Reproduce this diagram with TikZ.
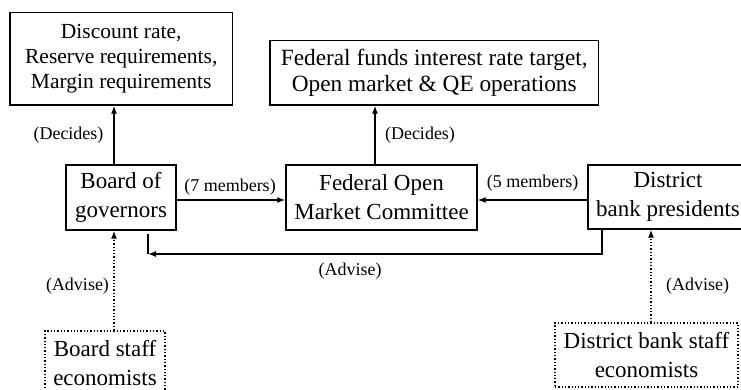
\documentclass[tikz,border=0pt]{standalone}
\usepackage{fontspec}
\setmainfont{Liberation Serif}
\usetikzlibrary{arrows.meta}
\tikzset{
  box/.style={draw, line width=1.4pt, inner sep=0pt, align=center},
  topbox/.style={box, font=\fontsize{21.5}{25}\selectfont},
  midbox/.style={box, font=\fontsize{23}{29}\selectfont},
  staffbox/.style={draw, dotted, line width=1.3pt, inner sep=0pt, align=center, font=\fontsize{23}{29}\selectfont},
  arr/.style={line width=1.3pt, -{Latex[length=8pt,width=6pt]}},
  darr/.style={line width=1.3pt, dotted, -{Latex[length=8pt,width=6pt]}},
  lbl/.style={font=\fontsize{18}{20}\selectfont, inner sep=0pt}
}
\begin{document}
\begin{tikzpicture}[x=1pt,y=-1pt]
\useasboundingbox (0,0) rectangle (741,390);
\clip (0,0) rectangle (741,390);
\fill[white] (0,0) rectangle (741,390);
% boxes
\node[topbox, minimum width=222.5pt, minimum height=92.5pt] (A) at (121.25,58.75)
  {Discount rate,\\Reserve requirements,\\Margin requirements};
\node[topbox, font=\fontsize{23.3}{26}\selectfont, minimum width=328.5pt, minimum height=64.5pt] (B) at (434.25,72.75)
  {Federal funds interest rate target,\\Open market \& QE operations};
\node[midbox, minimum width=110pt, minimum height=65pt] (C) at (121,197.5)
  {Board of\\governors};
\node[midbox, minimum width=191pt, minimum height=65pt] (D) at (381.5,197.5)
  {Federal Open\\Market Committee};
\node[midbox, minimum width=160pt, minimum height=64pt] (E) at (668,197)
  {District\\bank presidents};
\node[staffbox, minimum width=120pt, minimum height=64pt] (F) at (105,363)
  {Board staff\\economists};
\node[staffbox, minimum width=183pt, minimum height=64pt] (G) at (646.5,355)
  {District bank staff\\economists};
% helper coordinates
\coordinate (xa) at (114,0);
\coordinate (xb) at (375,0);
\coordinate (ye) at (0,200);
\coordinate (xe) at (602,0);
\coordinate (xg) at (651,0);
\coordinate (turn) at (602,254);
\coordinate (stubtop) at (148,234);
\coordinate (stubbot) at (148,254);
% connectors
\draw[arr] (C.north -| xa) -- (A.south -| xa);
\draw[arr] (D.north -| xb) -- (B.south -| xb);
\draw[arr] (C.east |- ye) -- (D.west |- ye);
\draw[arr] (E.west |- ye) -- (D.east |- ye);
\draw[arr] (E.south -| xe) -- (turn) -- (stubbot);
\draw[line width=1.3pt] (stubtop) -- (stubbot);
\draw[darr] (F.north -| xa) -- (C.south -| xa);
\draw[darr] (G.north -| xg) -- (E.south -| xg);
% labels
\node[lbl] (l1) at (68.5,135) {(Decides)};
\node[lbl] (l2) at (420,135) {(Decides)};
\node[lbl] (l3) at (230,187) {(7 members)};
\node[lbl] (l4) at (532.5,183) {(5 members)};
\node[lbl] (l5) at (350,271) {(Advise)};
\node[lbl] (l6) at (77.5,286) {(Advise)};
\node[lbl] (l7) at (697.5,286) {(Advise)};
\end{tikzpicture}
\end{document}
